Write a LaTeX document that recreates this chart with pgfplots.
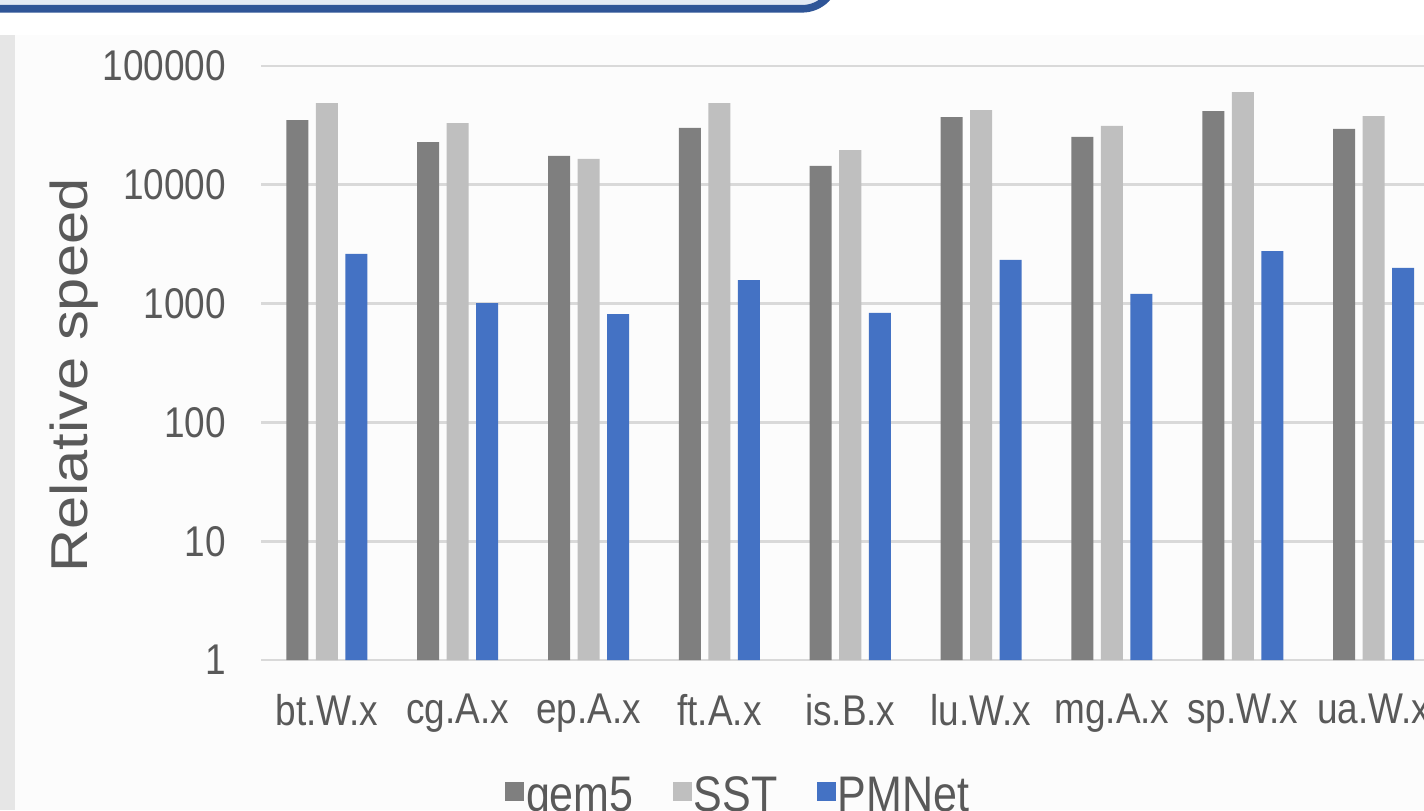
\documentclass[border=0pt]{standalone}
\usepackage{fontspec}
\setmainfont[FakeStretch=0.86]{Liberation Sans}
\newfontfamily\labelfont{Liberation Sans}
\usepackage{graphicx}
\usepackage{pgfplots}
\usepackage{pgfplotstable}
\pgfplotsset{compat=1.18}
\definecolor{gemc}{HTML}{7F7F7F}
\definecolor{sstc}{HTML}{BFBFBF}
\definecolor{pmc}{HTML}{4472C4}
\definecolor{txt}{HTML}{595959}
\definecolor{gridc}{HTML}{D9D9D9}
\definecolor{bannerc}{HTML}{2F5597}
\definecolor{bannerfill}{HTML}{E4EAF4}
\definecolor{stripc}{HTML}{E6E6E6}
\definecolor{areac}{HTML}{FCFCFC}

\pgfplotstableread{
x gem5 sst pmnet
0 35100 48800 2620
1 22900 33100 1010
2 17500 16500 817
3 30100 48800 1580
4 14400 19600 834
5 37200 42600 2330
6 25300 31300 1205
7 41800 60400 2770
8 29500 37900 1995
}\datatable

\begin{document}
\begin{tikzpicture}
\useasboundingbox (0,0) rectangle (712pt,405pt);
\clip (0,0) rectangle (712pt,405pt);
\fill[white] (0,0) rectangle (712pt,405pt);
\fill[areac] (7.5pt,0) rectangle (712pt,387.5pt);
\fill[stripc] (0,0) rectangle (7.5pt,387.5pt);
\draw[line width=3.8pt, bannerc, fill=bannerfill, rounded corners=17pt] (-20pt,400.6pt) rectangle (418pt,440pt);
\begin{axis}[
  at={(130.75pt,75pt)}, anchor=south west,
  width=588.75pt, height=297pt, scale only axis,
  xmin=-0.5, xmax=8.5,
  ymode=log, log basis y=10, ymin=1, ymax=100000,
  ytick={1,10,100,1000,10000,100000},
  yticklabels={1,10,100,1000,10000,100000},
  xtick={0,...,8},
  xticklabels={bt.W.x,cg.A.x,ep.A.x,ft.A.x,is.B.x,lu.W.x,mg.A.x,sp.W.x,ua.W.x},
  major tick length=0pt, minor tick num=0,
  axis line style={draw=none},
  ymajorgrids, major grid style={gridc, line width=1.4pt},
  yticklabel style={font=\fontsize{21.5}{25}\selectfont, text=txt, inner sep=0pt, anchor=east, xshift=-17.5pt},
  xticklabel style={font=\fontsize{21.5}{25}\selectfont, text=txt, inner sep=0pt, anchor=north, yshift=-17pt},
  ylabel={\scalebox{1}[0.87]{Relative speed}},
  ylabel style={at={(axis description cs:-0.1592,0.479)}, anchor=center, font=\labelfont\fontsize{29.8}{34}\selectfont, text=txt},
  ybar=3.75pt, bar width=11pt,
  legend columns=3,
  legend style={at={(axis description cs:0.2068,-0.1926)}, anchor=north west, draw=none, fill=none, inner sep=0pt,
    font=\fontsize{25}{29}\selectfont, text=txt,
    /tikz/every even column/.append style={column sep=19pt},
    nodes={inner sep=0.8pt}},
  legend image code/.code={\fill[#1] (0pt,-3pt) rectangle (9.5pt,6.5pt);},
]
\addplot[fill=gemc, draw=none] table[x=x, y=gem5] {\datatable};
\addplot[fill=sstc, draw=none] table[x=x, y=sst] {\datatable};
\addplot[fill=pmc, draw=none] table[x=x, y=pmnet] {\datatable};
\legend{gem5, SST, PMNet}
\end{axis}
\end{tikzpicture}
\end{document}
